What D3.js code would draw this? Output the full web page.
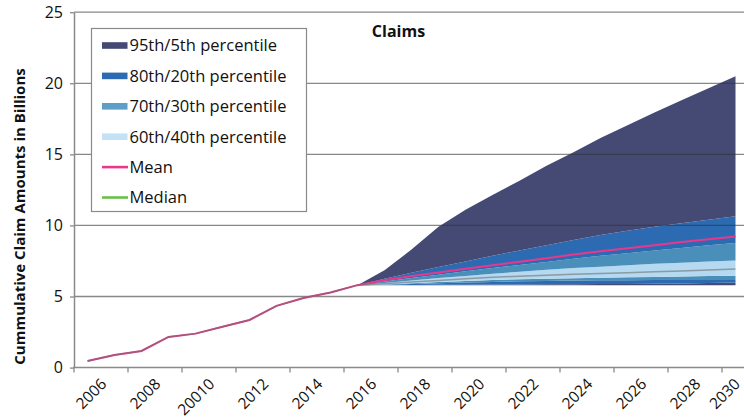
<!DOCTYPE html>
<html><head><meta charset="utf-8">
<script src="https://cdn.jsdelivr.net/npm/d3@7"></script>
<style>body{margin:0;background:#fff}svg{display:block}text{font-family:'Open Sans',sans-serif;fill:#111}</style>
</head><body><svg id="c" width="744" height="420"></svg>
<script>
const categories = [2006,2007,2008,2009,2010,2011,2012,2013,2014,2015,2016,2017,2018,2019,2020,2021,2022,2023,2024,2025,2026,2027,2028,2029,2030];
const tickYears = [2006,2008,2010,2012,2014,2016,2018,2020,2022,2024,2026,2028,2030];
const tickLabels = ["2006","2008","20010","2012","2014","2016","2018","2020","2022","2024","2026","2028","2030"];
const yTicks = [0,5,10,15,20,25];

const histYears = [2006,2007,2008,2009,2010,2011,2012,2013,2014,2015,2016];
const histValues = [0.47,0.89,1.17,2.16,2.39,2.88,3.35,4.34,4.89,5.28,5.8];

const fcYears = [2016,2017,2018,2019,2020,2021,2022,2023,2024,2025,2026,2027,2028,2029,2030];
const p95 = [5.8,6.85,8.3,9.9,11.1,12.15,13.15,14.2,15.15,16.15,17.05,17.95,18.8,19.65,20.5];
const p80 = [5.8,6.25,6.67,7.07,7.47,7.86,8.24,8.6,8.98,9.32,9.62,9.9,10.16,10.4,10.64];
const meanF = [5.8,6.15,6.45,6.69,6.95,7.2,7.45,7.7,7.95,8.18,8.4,8.6,8.83,9.03,9.23];
const p70 = [5.8,6.05,6.3,6.53,6.78,7.0,7.22,7.43,7.65,7.87,8.05,8.23,8.42,8.6,8.77];
const p60 = [5.8,5.95,6.12,6.3,6.45,6.6,6.75,6.88,7.0,7.1,7.2,7.3,7.38,7.46,7.54];
const medianF = [5.8,5.9,6.02,6.13,6.25,6.35,6.43,6.5,6.57,6.62,6.68,6.74,6.79,6.86,6.93];
const p40 = [5.8,5.85,5.94,6.02,6.1,6.16,6.21,6.25,6.29,6.32,6.35,6.38,6.41,6.44,6.46];
const p30 = [5.8,5.82,5.88,5.94,5.99,6.03,6.07,6.1,6.12,6.14,6.15,6.16,6.16,6.17,6.17];
const p20 = [5.8,5.8,5.81,5.82,5.83,5.84,5.85,5.86,5.87,5.88,5.88,5.9,5.92,5.95,5.98];
const p5  = [5.8,5.8,5.8,5.8,5.8,5.8,5.8,5.8,5.8,5.8,5.8,5.8,5.8,5.8,5.8];

const legendLabels = ["95th/5th percentile","80th/20th percentile","70th/30th percentile","60th/40th percentile","Mean","Median"];
const cNavy="#444a74", cBlue="#2c6bb2", cTeal="#4a8fb9", cLight="#b4d9f1", cPink="#e8388c", cGreen="#6cc04a", cGray="#707070";

const svg = d3.select("#c");
const x = d3.scaleBand().domain(categories).range([74, 74+27*categories.length]).padding(0);
const cx = d => x(d) + x.bandwidth()/2;
const y = d3.scaleLinear().domain([0,25]).range([367.6, 12.2]);

// bands
const bands = [
  [p5,p20,cNavy],[p20,p30,cBlue],[p30,p40,cTeal],[p40,p60,cLight],
  [p60,p70,cTeal],[p70,p80,cBlue],[p80,p95,cNavy]
];
const area = d3.area().x(d=>cx(d.yr)).y0(d=>y(d.lo)).y1(d=>y(d.hi));
bands.forEach(([lo,hi,col])=>{
  const pts = fcYears.map((yr,i)=>({yr,lo:lo[i],hi:hi[i]}));
  svg.append("path").attr("d",area(pts)).attr("fill",col);
});

// gridlines on top (semi transparent so they darken the fill)
svg.append("g").selectAll("line").data(yTicks.filter(v=>v>0)).join("line")
  .attr("x1",74).attr("x2",744).attr("y1",d=>y(d)).attr("y2",d=>y(d))
  .attr("stroke","rgba(50,50,50,0.58)").attr("stroke-width",1.3);

// axes
const yAxis = d3.axisLeft(y).tickValues(yTicks).tickSize(4).tickSizeOuter(0).tickPadding(7);
const gy = svg.append("g").attr("transform","translate(74,0)").call(yAxis);
gy.select(".domain").attr("stroke","#8a8a8a").attr("stroke-width",1.5);
gy.selectAll(".tick line").attr("stroke","#8a8a8a").attr("stroke-width",1.3);
gy.selectAll(".tick text").attr("font-size",16).attr("font-family","'Open Sans',sans-serif").attr("fill","#111");

svg.append("line").attr("x1",73).attr("x2",744).attr("y1",y(0)).attr("y2",y(0))
  .attr("stroke","#8a8a8a").attr("stroke-width",1.5);
svg.append("g").selectAll("line").data(tickYears).join("line")
  .attr("x1",d=>x(d)).attr("x2",d=>x(d)).attr("y1",y(0)).attr("y2",y(0)+5)
  .attr("stroke","#8a8a8a").attr("stroke-width",1.3);
svg.append("g").selectAll("text").data(tickYears).join("text")
  .attr("transform",d=>`translate(${Math.min(cx(d)+20,741)},385) rotate(-45)`)
  .attr("text-anchor","end").attr("font-size",15.5)
  .text((d,i)=>tickLabels[i]);

// lines
const line = d3.line().x(d=>cx(d.yr)).y(d=>y(d.v));
const meanPts = histYears.map((yr,i)=>({yr,v:histValues[i]})).concat(fcYears.slice(1).map((yr,i)=>({yr,v:meanF[i+1]})));
const medPts = histYears.map((yr,i)=>({yr,v:histValues[i]})).concat(fcYears.slice(1).map((yr,i)=>({yr,v:medianF[i+1]})));
svg.append("path").attr("d",line(meanPts)).attr("fill","none").attr("stroke",cPink).attr("stroke-width",2);
svg.append("path").attr("d",line(medPts)).attr("fill","none").attr("stroke",cGray).attr("stroke-width",1.5).attr("stroke-opacity",0.6);

// title
svg.append("text").attr("x",398.5).attr("y",36.5).attr("text-anchor","middle")
  .attr("font-size",16).attr("font-weight","bold").text("Claims");
// y title
svg.append("text").attr("transform","translate(25,216.5) rotate(-90)").attr("text-anchor","middle")
  .attr("font-size",15).attr("font-weight","bold").text("Cummulative Claim Amounts in Billions");

// legend
const lg = svg.append("g");
lg.append("rect").attr("x",91.5).attr("y",28.5).attr("width",215).attr("height",183)
  .attr("fill","#fff").attr("stroke","#8a8a8a").attr("stroke-width",1.2);
const legendColors = [cNavy,cBlue,"#5e9ec7","#c4e2f6",cPink,cGreen];
legendLabels.forEach((lab,i)=>{
  const ry = 45.5 + i*30.4;
  if (i<4) lg.append("rect").attr("x",102).attr("y",ry-3.3).attr("width",25.5).attr("height",6.6).attr("fill",legendColors[i]);
  else lg.append("line").attr("x1",102).attr("x2",128).attr("y1",ry).attr("y2",ry).attr("stroke",legendColors[i]).attr("stroke-width",2.6);
  lg.append("text").attr("x",129.5).attr("y",ry+5.8).attr("font-size",16.5).text(lab);
});
</script></body></html>
